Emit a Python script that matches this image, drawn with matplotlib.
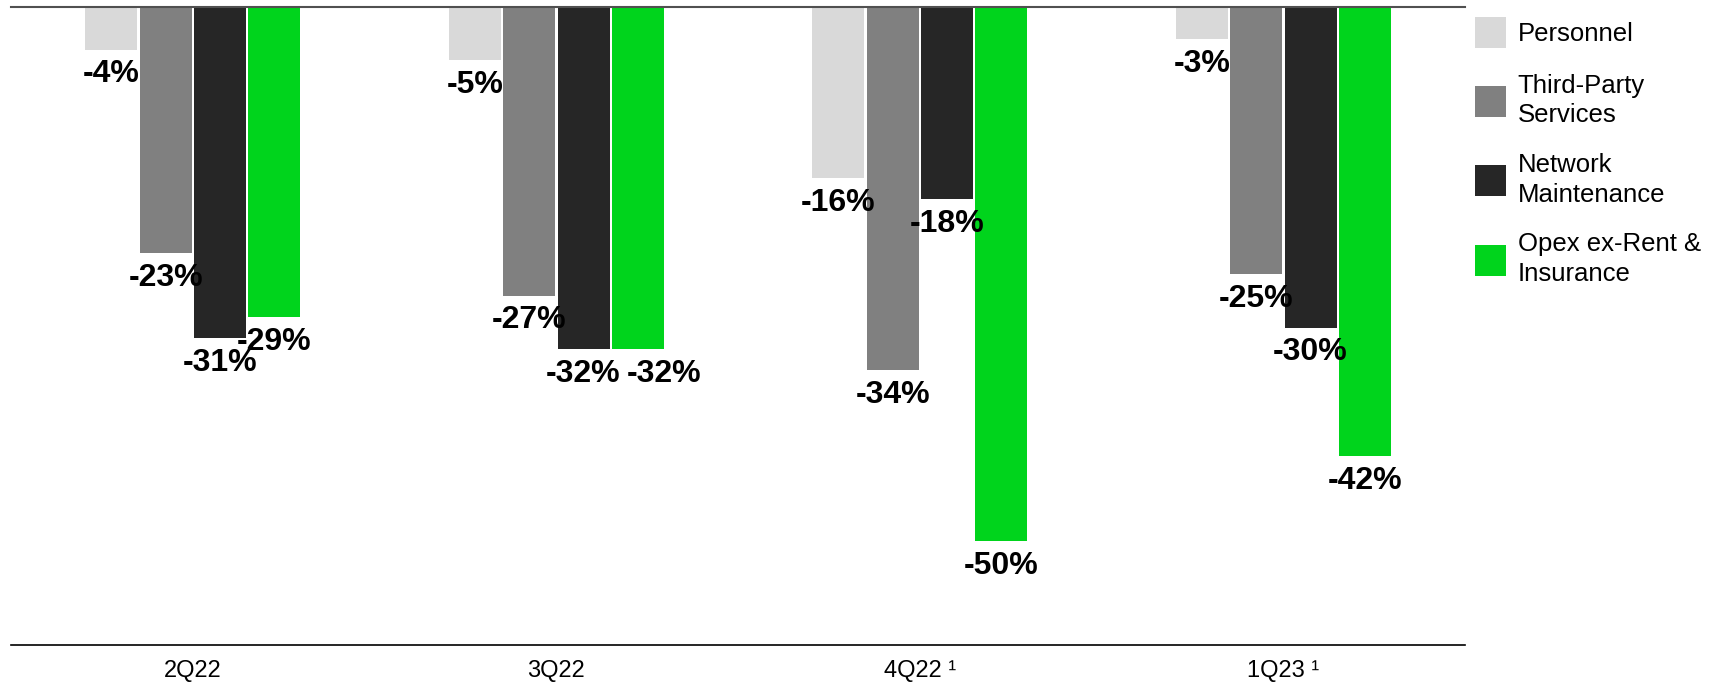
import numpy as np
import matplotlib
matplotlib.use("Agg")
import matplotlib.pyplot as plt

plt.rcParams['font.family'] = ['Liberation Sans', 'DejaVu Sans']

quarters = ['2Q22', '3Q22', '4Q22 \u00b9', '1Q23 \u00b9']
series = ['Personnel', 'Third-Party\nServices', 'Network\nMaintenance', 'Opex ex-Rent &\nInsurance']
colors = ['#d9d9d9', '#808080', '#262626', '#00d41c']

# YoY change, %
personnel = [-4, -5, -16, -3]
third_party = [-23, -27, -34, -25]
network = [-31, -32, -18, -30]
opex = [-29, -32, -50, -42]

data = [personnel, third_party, network, opex]

fig = plt.figure(figsize=(17.29, 6.87), dpi=100)
ax = fig.add_axes([0.0064, 0.0611, 0.841, 0.9287])

x = np.arange(len(quarters))
step = 0.1495
width = 0.143
for i, vals in enumerate(data):
    pos = x + (i - 1.5) * step
    ax.bar(pos, vals, width=width, color=colors[i], label=series[i], zorder=2)
    for j, (px, v) in enumerate(zip(pos, vals)):
        # the two -32% labels in 3Q22 would collide, nudge the green one right
        dx = 19 if (i == 3 and j == 1) else 0
        ax.annotate(f'{v}%', (px, v), xytext=(dx, -7), textcoords='offset points',
                    ha='center', va='top', fontsize=23, fontweight='bold', zorder=3)

ax.set_xlim(-0.5, 3.5)
ax.set_ylim(-59.7, 0)
ax.set_yticks([])
ax.set_xticks(x)
ax.set_xticklabels(quarters, fontsize=17)
ax.tick_params(axis='x', length=0, pad=11)
for s in ['left', 'right']:
    ax.spines[s].set_visible(False)
ax.spines['top'].set_color('#505050')
ax.spines['top'].set_linewidth(1.5)
ax.spines['top'].set_zorder(4)
ax.spines['bottom'].set_color('black')
ax.spines['bottom'].set_linewidth(1.2)

leg = fig.legend(loc='upper left', bbox_to_anchor=(1475 / 1729, 1 - 17 / 687), frameon=False,
                 fontsize=18.5, handlelength=1.21, handleheight=1.48, handletextpad=0.45,
                 labelspacing=1.0, borderpad=0, borderaxespad=0)
for t in leg.get_texts():
    t.set_linespacing(1.3)

fig.savefig('out.png', dpi=100)
